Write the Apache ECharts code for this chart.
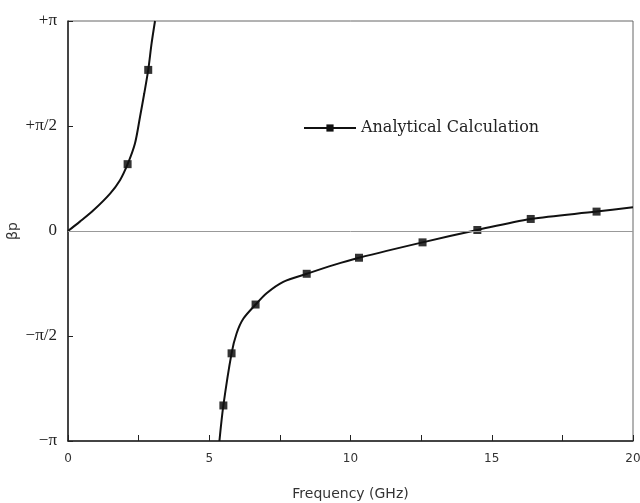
<!DOCTYPE html>
<html>
<head>
<meta charset="utf-8">
<title>Dispersion</title>
<script src="https://cdn.jsdelivr.net/npm/echarts@6/dist/echarts.min.js"></script>
<style>
  body { margin: 0; background: #fff; }
  #chart { width: 640px; height: 503px; }
</style>
</head>
<body>
<div id="chart"></div>
<script>
// values (frequency in GHz, beta*p in rad)
var upperFreq = [0, 0.42, 0.9, 1.49, 1.84, 2.11, 2.37, 2.55, 2.70, 2.84, 2.96, 3.08];
var upperBeta = [0, 0.14, 0.31, 0.56, 0.76, 1.00, 1.31, 1.71, 2.06, 2.41, 2.81, 3.1416];
var upperMarkFreq = [2.11, 2.84];
var upperMarkBeta = [1.00, 2.41];

var lowerFreq = [5.36, 5.5, 5.79, 5.97, 6.21, 6.64, 7.03, 7.62, 8.45, 9.39, 10.3, 12.55, 14.49, 16.38, 18.71, 20];
var lowerBeta = [-3.1416, -2.61, -1.83, -1.53, -1.31, -1.10, -0.93, -0.76, -0.64, -0.51, -0.40, -0.17, 0.015, 0.18, 0.29, 0.355];
var lowerMarkFreq = [5.5, 5.79, 6.64, 8.45, 10.3, 12.55, 14.49, 16.38, 18.71];
var lowerMarkBeta = [-2.61, -1.83, -1.10, -0.64, -0.40, -0.17, 0.015, 0.18, 0.29];

var yTickLabels = ['\u2212\u03c0', '\u2212\u03c0/2', '0', '+\u03c0/2', '+\u03c0'];
var seriesName = 'Analytical Calculation';

function pairs(xs, ys) {
    return xs.map(function (x, i) { return [x, ys[i]]; });
}

var chart = echarts.init(document.getElementById('chart'));
chart.setOption({
    animation: false,
    grid: {
        left: 68, right: 7, top: 21, bottom: 62,
        outerBoundsMode: 'none', containLabel: false,
        show: true, borderColor: '#666', borderWidth: 1
    },
    legend: {
        data: [seriesName],
        left: 298, top: 115,
        itemWidth: 52, itemHeight: 9,
        textStyle: { fontFamily: 'DejaVu Serif', fontSize: 16, color: '#222' }
    },
    xAxis: {
        type: 'value', min: 0, max: 20, interval: 5,
        name: 'Frequency (GHz)', nameLocation: 'middle', nameGap: 46,
        nameTextStyle: { fontFamily: 'DejaVu Sans', fontSize: 14, color: '#333' },
        axisLine: { onZero: false, lineStyle: { color: '#222', width: 1.5 } },
        axisTick: { inside: true, length: 6, lineStyle: { color: '#222' } },
        minorTick: { show: true, splitNumber: 2, length: 6, lineStyle: { color: '#222' } },
        axisLabel: { fontFamily: 'DejaVu Sans', fontSize: 12, color: '#333', margin: 12 },
        splitLine: { show: false }
    },
    yAxis: {
        type: 'value', min: -Math.PI, max: Math.PI, interval: Math.PI / 2,
        name: '\u03b2p', nameLocation: 'middle', nameGap: 48, nameRotate: 90,
        nameMoveOverlap: false,
        nameTextStyle: { fontFamily: 'DejaVu Sans', fontSize: 14, color: '#333' },
        axisLine: { onZero: false, lineStyle: { color: '#222', width: 1.5 } },
        axisTick: { inside: true, length: 5, lineStyle: { color: '#222' } },
        axisLabel: {
            fontFamily: 'Liberation Serif', fontSize: 17, color: '#222', margin: 11,
            formatter: function (v) {
                return yTickLabels[Math.round(v / (Math.PI / 2)) + 2];
            }
        },
        splitLine: { show: false }
    },
    series: [
        {
            name: seriesName, type: 'line', smooth: 0.3,
            data: pairs(upperFreq, upperBeta),
            symbol: 'rect', symbolSize: 8, showSymbol: false,
            lineStyle: { color: '#111', width: 2 }, itemStyle: { color: '#111' },
            markLine: {
                silent: true, symbol: 'none', label: { show: false },
                lineStyle: { color: '#999', type: 'solid', width: 1 },
                data: [{ yAxis: 0 }]
            }
        },
        {
            name: seriesName, type: 'line', smooth: 0.3,
            data: pairs(lowerFreq, lowerBeta),
            symbol: 'rect', symbolSize: 8, showSymbol: false,
            lineStyle: { color: '#111', width: 2 }, itemStyle: { color: '#111' }
        },
        {
            name: seriesName, type: 'scatter', symbol: 'rect', symbolSize: 8,
            data: pairs(upperMarkFreq, upperMarkBeta).concat(pairs(lowerMarkFreq, lowerMarkBeta)),
            itemStyle: { color: '#000' }
        }
    ]
});
</script>
</body>
</html>
